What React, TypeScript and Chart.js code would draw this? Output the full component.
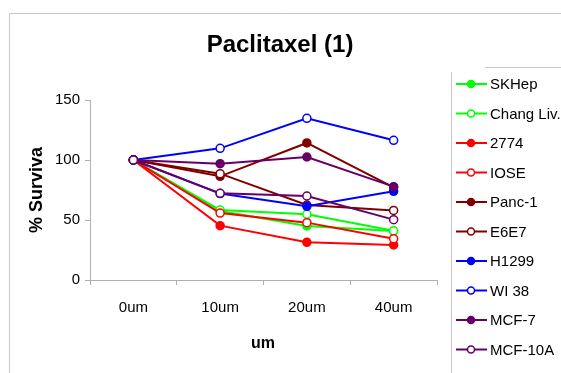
import React, { useEffect, useRef } from "react";
import { Chart, registerables } from "chart.js";

Chart.register(...registerables);

const categories = ["0um", "10um", "20um", "40um"];
const yTicks = [0, 50, 100, 150];

const seriesNames = ["SKHep", "Chang Liv.", "2774", "IOSE", "Panc-1", "E6E7", "H1299", "WI 38", "MCF-7", "MCF-10A"];
const skhep = [100, 57.5, 45, 40.8];
const changLiv = [100, 58.3, 54.7, 41];
const s2774 = [100, 45.3, 31.4, 29.2];
const iose = [100, 55.8, 47.8, 34.4];
const panc1 = [100, 86.4, 114.2, 77.2];
const e6e7 = [100, 88.6, 62.5, 58];
const h1299 = [100, 72, 61.4, 73.9];
const wi38 = [100, 109.7, 134.7, 116.4];
const mcf7 = [100, 96.9, 102.5, 77.8];
const mcf10a = [100, 72.2, 70, 50.3];
const seriesValues = [skhep, changLiv, s2774, iose, panc1, e6e7, h1299, wi38, mcf7, mcf10a];
const seriesColors = ["#00ff00", "#00ff00", "#ff0000", "#ff0000", "#800000", "#800000", "#0000ff", "#0000ff", "#660066", "#660066"];
const seriesFilled = [true, false, true, false, true, false, true, false, true, false];

const FONT = "'Liberation Sans', Arial, sans-serif";

const decor = {
  id: "decor",
  afterDraw(chart: any) {
    const ctx = chart.ctx;
    ctx.save();
    // outer frame
    ctx.strokeStyle = "#c8c8c8";
    ctx.lineWidth = 1;
    ctx.beginPath();
    ctx.moveTo(9.5, 373);
    ctx.lineTo(9.5, 13.5);
    ctx.lineTo(561, 13.5);
    ctx.stroke();
    // legend frame
    ctx.beginPath();
    ctx.moveTo(451.5, 373);
    ctx.lineTo(451.5, 72);
    ctx.moveTo(485, 67.5);
    ctx.lineTo(561, 67.5);
    ctx.stroke();
    // title
    ctx.fillStyle = "#000";
    ctx.textAlign = "center";
    ctx.textBaseline = "middle";
    ctx.font = `bold 24px ${FONT}`;
    ctx.fillText("Paclitaxel (1)", 280, 45);
    // x title
    ctx.font = `bold 16px ${FONT}`;
    ctx.fillText("um", 263, 344);
    // y title
    ctx.save();
    ctx.translate(37, 190);
    ctx.rotate(-Math.PI / 2);
    ctx.font = `bold 18px ${FONT}`;
    ctx.fillText("% Surviva", 0, 0);
    ctx.restore();
    // legend
    ctx.textAlign = "left";
    ctx.font = `15px ${FONT}`;
    seriesNames.forEach((name, i) => {
      const y = 84 + i * 29.5;
      ctx.strokeStyle = seriesColors[i];
      ctx.lineWidth = 2;
      ctx.beginPath();
      ctx.moveTo(456, y);
      ctx.lineTo(487, y);
      ctx.stroke();
      ctx.beginPath();
      ctx.arc(471, y, 3.5, 0, Math.PI * 2);
      ctx.fillStyle = seriesFilled[i] ? seriesColors[i] : "#ffffff";
      ctx.fill();
      ctx.lineWidth = 1.5;
      ctx.stroke();
      ctx.fillStyle = "#000";
      ctx.fillText(name, 490, y + 1);
    });
    ctx.restore();
  },
};

export default function App() {
  const ref = useRef<HTMLCanvasElement>(null);
  useEffect(() => {
    if (!ref.current) return;
    const chart = new Chart(ref.current, {
      type: "line",
      data: {
        labels: categories,
        datasets: seriesNames.map((name, i) => ({
          label: name,
          data: seriesValues[i],
          borderColor: seriesColors[i],
          backgroundColor: seriesColors[i],
          pointBackgroundColor: seriesFilled[i] ? seriesColors[i] : "#ffffff",
          pointBorderColor: seriesColors[i],
          pointBorderWidth: 1.5,
          pointRadius: 4,
          borderWidth: 2,
          tension: 0,
          order: 10 - i,
        })),
      },
      options: {
        animation: false,
        responsive: false,
        layout: { padding: { left: 0, top: 100, right: 124, bottom: 0 } },
        plugins: { legend: { display: false }, title: { display: false }, tooltip: { enabled: false } },
        scales: {
          x: {
            type: "category",
            offset: true,
            afterFit: (s: any) => { s.height = 93; },
            grid: { offset: true, drawOnChartArea: false, drawTicks: true, tickLength: 5, color: "#b0b0b0" },
            border: { color: "#b0b0b0" },
            ticks: { color: "#000", font: { family: FONT, size: 15 }, padding: 14, maxRotation: 0 },
          },
          y: {
            min: 0,
            max: 150,
            afterFit: (s: any) => { s.width = 90; },
            afterBuildTicks: (s: any) => { s.ticks = yTicks.map((v) => ({ value: v })); },
            grid: { drawOnChartArea: false, drawTicks: true, tickLength: 5, color: "#b0b0b0" },
            border: { color: "#b0b0b0" },
            ticks: { color: "#000", font: { family: FONT, size: 15 }, padding: 5 },
          },
        },
      },
      plugins: [decor],
    } as any);
    return () => chart.destroy();
  }, []);
  return (
    <div style={{ position: "fixed", left: 0, top: 0, width: 561, height: 373, background: "#fff" }}>
      <canvas ref={ref} width={561} height={373} style={{ display: "block" }} />
    </div>
  );
}
